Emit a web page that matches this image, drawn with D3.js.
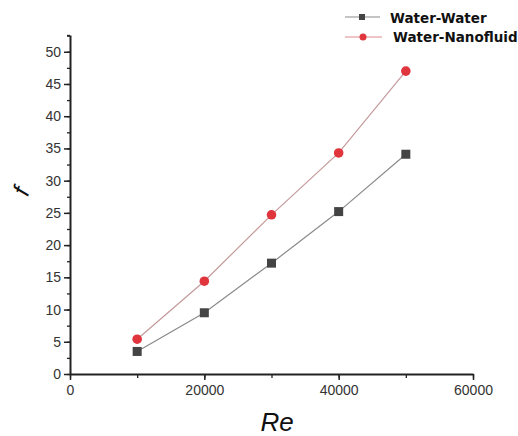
<!DOCTYPE html>
<html>
<head>
<meta charset="utf-8">
<script src="https://cdn.jsdelivr.net/npm/d3@7"></script>
<style>
  body { margin: 0; background: #fff; }
  svg { display: block; }
  .tick text { font-family: "Liberation Sans", Arial, sans-serif; font-size: 14px; fill: #333; }
</style>
</head>
<body>
<div id="chart"></div>
<script>
var reValues = [10000, 20000, 30000, 40000, 50000];
var waterWater = [3.5, 9.5, 17.2, 25.2, 34.1];
var waterNano = [5.4, 14.4, 24.7, 34.3, 47.0];
var xTicks = [0, 20000, 40000, 60000];
var yTicks = [0, 5, 10, 15, 20, 25, 30, 35, 40, 45, 50];
var seriesNames = ["Water-Water", "Water-Nanofluid"];

var svgWidth = 518;
var svgHeight = 436;

var svg = d3.select("#chart")
  .append("svg")
  .attr("width", svgWidth)
  .attr("height", svgHeight);

var x = d3.scaleLinear().domain([0, 60000]).range([70, 473]);
var y = d3.scaleLinear().domain([0, 52.6]).range([374, 35]);

// minor ticks
var xMinor = d3.range(0, 60001, 10000);
var yMinor = d3.range(0, 52.6, 2.5);

svg.append("g")
  .attr("transform", "translate(0,374)")
  .call(d3.axisBottom(x).tickValues(xMinor).tickSize(4).tickFormat(""))
  .call(g => g.select(".domain").remove())
  .selectAll("line").attr("stroke", "#222").attr("stroke-width", 1.3);

svg.append("g")
  .attr("transform", "translate(70,0)")
  .call(d3.axisLeft(y).tickValues(yMinor.concat([52.6])).tickSize(3).tickFormat(""))
  .call(g => g.select(".domain").remove())
  .selectAll("line").attr("stroke", "#222").attr("stroke-width", 1.3);

var xAxis = svg.append("g")
  .attr("transform", "translate(0,374)")
  .call(d3.axisBottom(x).tickValues(xTicks).tickSize(6).tickSizeOuter(0).tickPadding(5).tickFormat(d3.format("d")));
xAxis.select(".domain").attr("stroke", "#222").attr("stroke-width", 2);
xAxis.selectAll(".tick line").attr("stroke", "#222").attr("stroke-width", 1.5);

var yAxis = svg.append("g")
  .attr("transform", "translate(70,0)")
  .call(d3.axisLeft(y).tickValues(yTicks).tickSize(6).tickSizeOuter(0).tickPadding(3));
yAxis.select(".domain").attr("stroke", "#222").attr("stroke-width", 2);
yAxis.selectAll(".tick line").attr("stroke", "#222").attr("stroke-width", 1.5);

var line = d3.line()
  .x(d => x(d[0]))
  .y(d => y(d[1]));

var ww = reValues.map((r, i) => [r, waterWater[i]]);
var wn = reValues.map((r, i) => [r, waterNano[i]]);

svg.append("path").datum(ww)
  .attr("d", line).attr("fill", "none")
  .attr("stroke", "#8a8a8a").attr("stroke-width", 1.2);
svg.append("path").datum(wn)
  .attr("d", line).attr("fill", "none")
  .attr("stroke", "#c49a9c").attr("stroke-width", 1.2);

svg.append("g").selectAll("rect")
  .data(ww)
  .enter()
  .append("rect")
  .attr("x", d => x(d[0]) - 4.5)
  .attr("y", d => y(d[1]) - 4.5)
  .attr("width", 9)
  .attr("height", 9)
  .attr("fill", "#444");

svg.append("g").selectAll("circle")
  .data(wn)
  .enter()
  .append("circle")
  .attr("cx", d => x(d[0]))
  .attr("cy", d => y(d[1]))
  .attr("r", 4.8)
  .attr("fill", "#e0353d");

// legend
var legend = svg.append("g");
legend.append("line").attr("x1", 345).attr("x2", 380).attr("y1", 17).attr("y2", 17)
  .attr("stroke", "#8a8a8a").attr("stroke-width", 1.2);
legend.append("rect").attr("x", 359).attr("y", 14).attr("width", 6).attr("height", 6).attr("fill", "#444");
legend.append("text").attr("x", 390).attr("y", 23).text(seriesNames[0])
  .attr("font-family", "DejaVu Sans, sans-serif").attr("font-weight", "bold")
  .attr("font-size", 13.5).attr("fill", "#111");

legend.append("line").attr("x1", 345).attr("x2", 382).attr("y1", 37).attr("y2", 37)
  .attr("stroke", "#e08a8d").attr("stroke-width", 1.2);
legend.append("circle").attr("cx", 363).attr("cy", 37).attr("r", 3.5).attr("fill", "#e0353d");
legend.append("text").attr("x", 393).attr("y", 42).text(seriesNames[1])
  .attr("font-family", "DejaVu Sans, sans-serif").attr("font-weight", "bold")
  .attr("font-size", 13.5).attr("fill", "#111");

// axis titles
svg.append("text")
  .attr("transform", "translate(29,194) rotate(-70)")
  .attr("text-anchor", "middle")
  .attr("font-family", "Liberation Sans, Arial, sans-serif")
  .attr("font-style", "italic")
  .attr("font-size", 24)
  .attr("fill", "#111")
  .text("f");

svg.append("text")
  .attr("x", 277)
  .attr("y", 431)
  .attr("text-anchor", "middle")
  .attr("font-family", "Liberation Sans, Arial, sans-serif")
  .attr("font-style", "italic")
  .attr("font-size", 26)
  .attr("fill", "#111")
  .text("Re");
</script>
</body>
</html>
